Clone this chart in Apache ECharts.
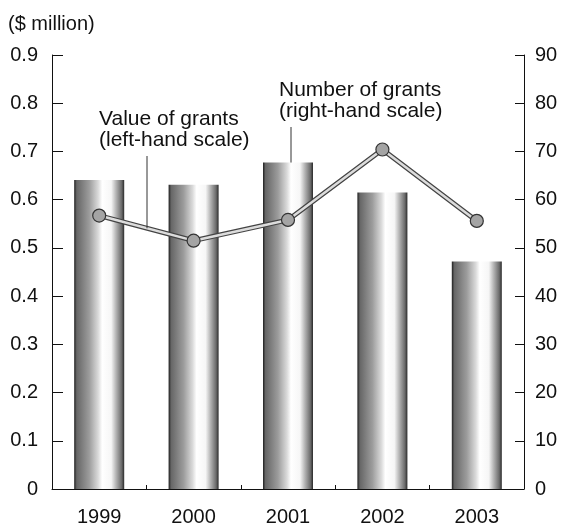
<!DOCTYPE html>
<html>
<head>
<meta charset="utf-8">
<script src="https://cdn.jsdelivr.net/npm/echarts@6/dist/echarts.min.js"></script>
<style>
html,body{margin:0;padding:0;background:#fff;}
#c{width:563px;height:527px;}
</style>
</head>
<body>
<div id="c"></div>
<script>
const years = ['1999', '2000', '2001', '2002', '2003'];
const valueOfGrants = [0.641, 0.631, 0.677, 0.615, 0.472];   // $ million, left-hand scale
const numberOfGrants = [56.7, 51.5, 55.8, 70.4, 55.6];       // right-hand scale
const leftTicks = { min: 0, max: 0.9, interval: 0.1 };
const rightTicks = { min: 0, max: 90, interval: 10 };

const FONT = 'Liberation Sans, Arial, Helvetica, sans-serif';
const chart = echarts.init(document.getElementById('c'), null, { renderer: 'canvas' });

const barGradient = new echarts.graphic.LinearGradient(0, 0, 1, 0, [
  { offset: 0, color: '#1e1e1e' },
  { offset: 0.05, color: '#666' },
  { offset: 0.3, color: '#9c9c9c' },
  { offset: 0.48, color: '#dadada' },
  { offset: 0.56, color: '#ffffff' },
  { offset: 0.74, color: '#f6f6f6' },
  { offset: 0.84, color: '#b2b2b2' },
  { offset: 0.95, color: '#6a6a6a' },
  { offset: 1, color: '#2a2a2a' }
]);

const axisLabel = { color: '#111', fontSize: 20, fontFamily: FONT };

chart.setOption({
  animation: false,
  backgroundColor: '#fff',
  grid: { left: 52, right: 39, top: 55, bottom: 38 },
  xAxis: {
    type: 'category',
    data: years,
    boundaryGap: true,
    axisLine: { lineStyle: { color: '#111', width: 1 } },
    axisTick: { show: true, inside: true, length: 4, alignWithLabel: false, lineStyle: { color: '#111' } },
    axisLabel: Object.assign({ margin: 18 }, axisLabel),
    splitLine: { show: false }
  },
  yAxis: [
    {
      type: 'value', position: 'left',
      min: leftTicks.min, max: leftTicks.max, interval: leftTicks.interval,
      axisLine: { show: true, lineStyle: { color: '#111', width: 1 } },
      axisTick: { show: true, inside: true, length: 11, lineStyle: { color: '#111' } },
      axisLabel: Object.assign({ margin: 14, formatter: v => (Math.round(v * 10) / 10).toString() }, axisLabel),
      splitLine: { show: false }
    },
    {
      type: 'value', position: 'right',
      min: rightTicks.min, max: rightTicks.max, interval: rightTicks.interval,
      axisLine: { show: true, lineStyle: { color: '#111', width: 1 } },
      axisTick: { show: true, inside: true, length: 9, lineStyle: { color: '#111' } },
      axisLabel: Object.assign({ margin: 11 }, axisLabel),
      splitLine: { show: false }
    }
  ],
  series: [
    {
      name: 'Value of grants',
      type: 'bar',
      yAxisIndex: 0,
      barWidth: 50,
      data: valueOfGrants,
      itemStyle: { color: barGradient },
      z: 2
    },
    {
      name: 'Number of grants outline',
      type: 'line',
      yAxisIndex: 1,
      data: numberOfGrants,
      symbol: 'none',
      lineStyle: { color: '#444', width: 5 },
      z: 3,
      silent: true
    },
    {
      name: 'Number of grants',
      type: 'line',
      yAxisIndex: 1,
      data: numberOfGrants,
      symbol: 'circle',
      symbolSize: 13,
      lineStyle: { color: '#dcdcdc', width: 2.5 },
      itemStyle: { color: '#a4a4a4', borderColor: '#333', borderWidth: 1.2 },
      z: 4
    }
  ]
});

// Annotations (text + leader lines) anchored on the data through the chart's own scales
const p0 = chart.convertToPixel({ xAxisIndex: 0, yAxisIndex: 1 }, [0, numberOfGrants[0]]);
const p1 = chart.convertToPixel({ xAxisIndex: 0, yAxisIndex: 1 }, [1, numberOfGrants[1]]);
const leaderX1 = 147;
const t = (leaderX1 - p0[0]) / (p1[0] - p0[0]);
const leaderY1 = p0[1] + t * (p1[1] - p0[1]);
const barTop2001 = chart.convertToPixel({ xAxisIndex: 0, yAxisIndex: 0 }, [2, valueOfGrants[2]]);

const txtStyle = { fill: '#111', fontSize: 21, fontFamily: FONT, lineHeight: 21 };

chart.setOption({
  graphic: [
    { type: 'text', left: 8, top: 14, style: Object.assign({ text: '($ million)' }, txtStyle, { fontSize: 20 }) },
    { type: 'text', left: 99, top: 109, style: Object.assign({ text: 'Value of grants\n(left-hand scale)' }, txtStyle) },
    { type: 'text', left: 279, top: 80, style: Object.assign({ text: 'Number of grants\n(right-hand scale)' }, txtStyle) },
    { type: 'line', shape: { x1: leaderX1, y1: 156, x2: leaderX1, y2: leaderY1 }, style: { stroke: '#333', lineWidth: 1 }, z: 10 },
    { type: 'line', shape: { x1: barTop2001[0] + 3, y1: 127, x2: barTop2001[0] + 3, y2: barTop2001[1] }, style: { stroke: '#333', lineWidth: 1 }, z: 10 }
  ]
});
</script>
</body>
</html>
